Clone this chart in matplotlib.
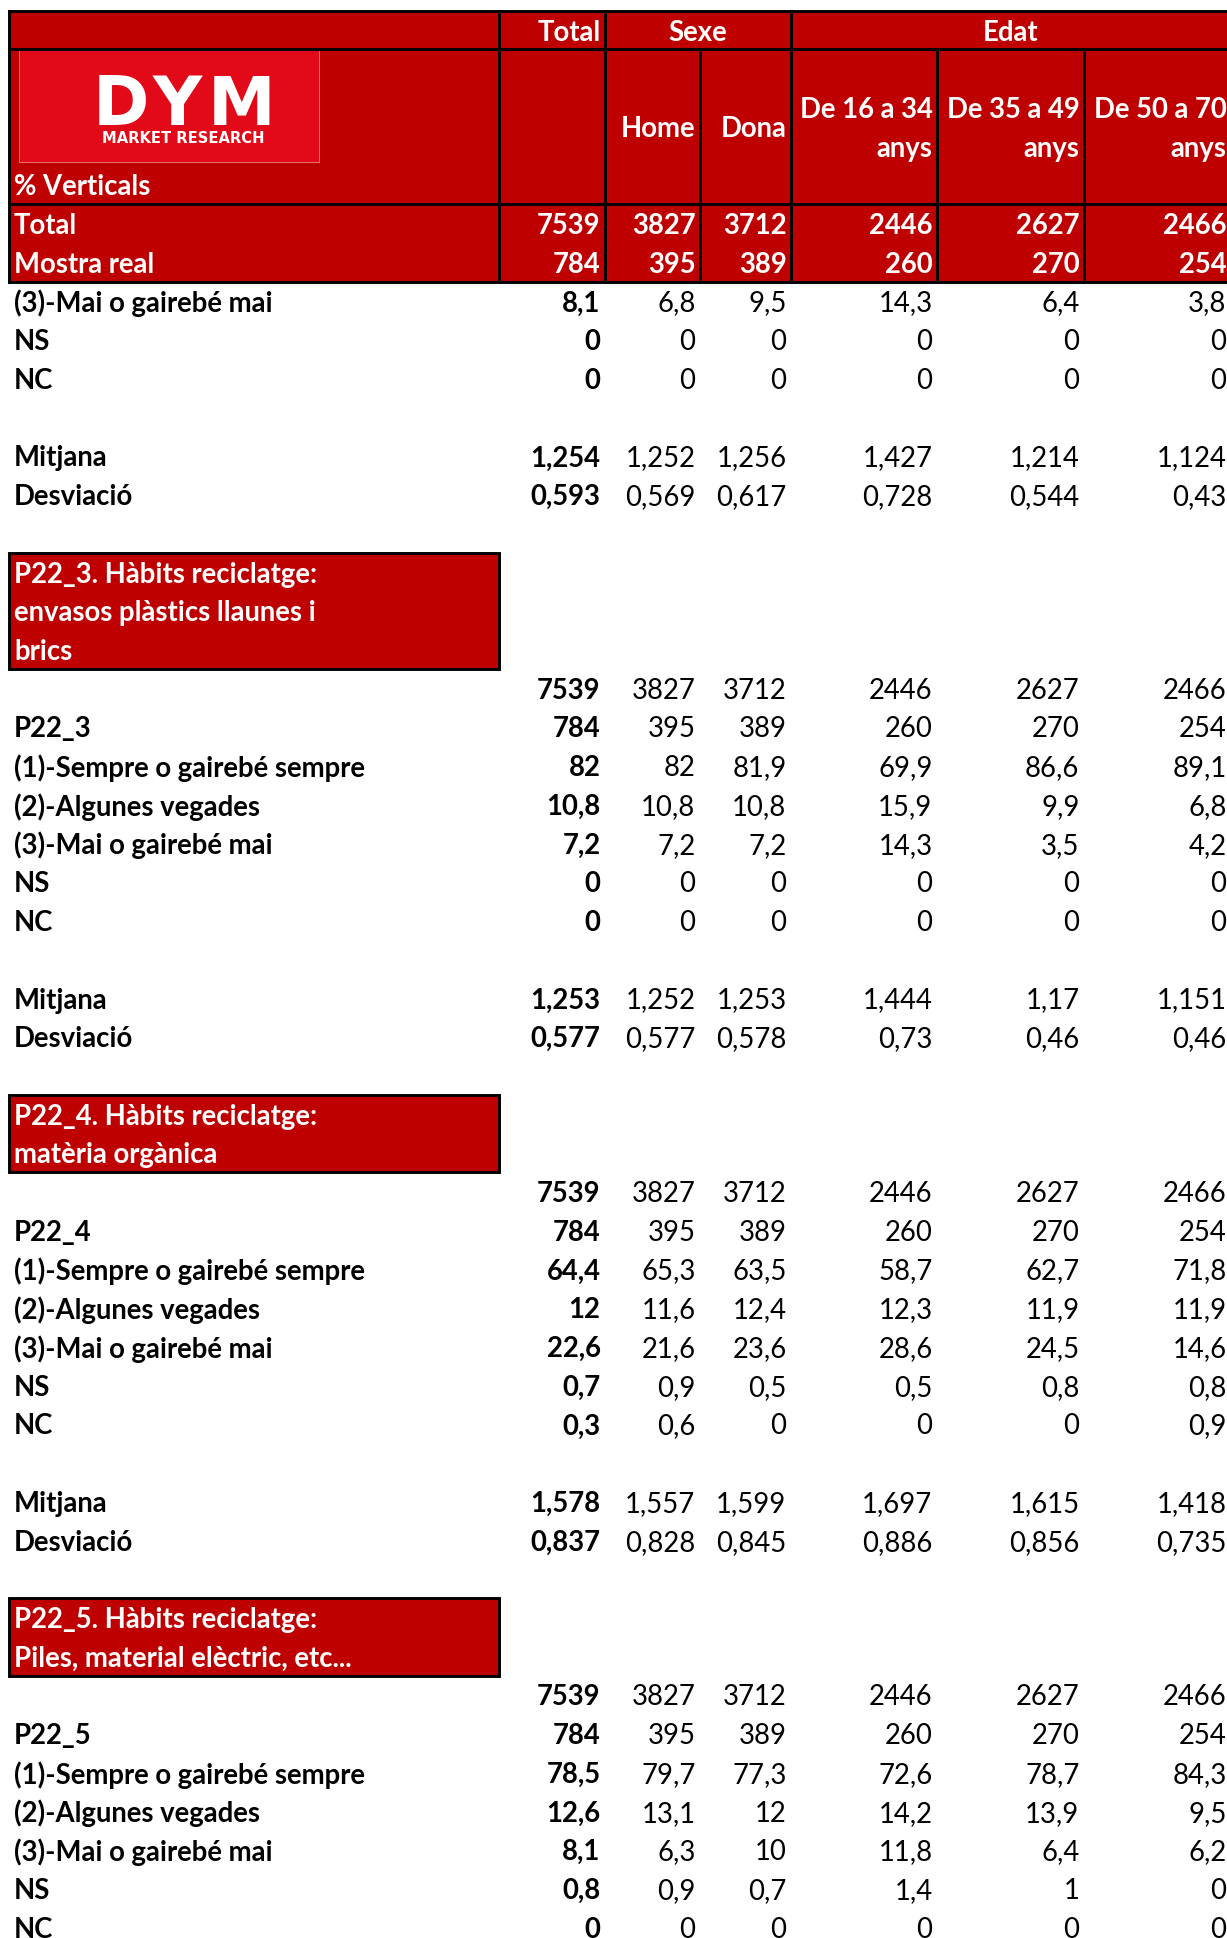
import matplotlib
matplotlib.use("Agg")
import matplotlib.pyplot as plt
from matplotlib.patches import Rectangle

# ---------------- data ----------------
group_headers = ["Total", "Sexe", "Edat"]
columns = ["", "Home", "Dona", "De 16 a 34\nanys", "De 35 a 49\nanys", "De 50 a 70\nanys"]

total_pop = [7539, 3827, 3712, 2446, 2627, 2466]
mostra_real = [784, 395, 389, 260, 270, 254]

# P22_2 (tail)
p22_2_mai = [8.1, 6.8, 9.5, 14.3, 6.4, 3.8]
p22_2_ns = [0, 0, 0, 0, 0, 0]
p22_2_nc = [0, 0, 0, 0, 0, 0]
p22_2_mitjana = [1.254, 1.252, 1.256, 1.427, 1.214, 1.124]
p22_2_desv = [0.593, 0.569, 0.617, 0.728, 0.544, 0.43]

# P22_3
p22_3_title = "P22_3. Hàbits reciclatge:\nenvasos plàstics llaunes i\nbrics"
p22_3_sempre = [82, 82, 81.9, 69.9, 86.6, 89.1]
p22_3_algunes = [10.8, 10.8, 10.8, 15.9, 9.9, 6.8]
p22_3_mai = [7.2, 7.2, 7.2, 14.3, 3.5, 4.2]
p22_3_ns = [0, 0, 0, 0, 0, 0]
p22_3_nc = [0, 0, 0, 0, 0, 0]
p22_3_mitjana = [1.253, 1.252, 1.253, 1.444, 1.17, 1.151]
p22_3_desv = [0.577, 0.577, 0.578, 0.73, 0.46, 0.46]

# P22_4
p22_4_title = "P22_4. Hàbits reciclatge:\nmatèria orgànica"
p22_4_sempre = [64.4, 65.3, 63.5, 58.7, 62.7, 71.8]
p22_4_algunes = [12, 11.6, 12.4, 12.3, 11.9, 11.9]
p22_4_mai = [22.6, 21.6, 23.6, 28.6, 24.5, 14.6]
p22_4_ns = [0.7, 0.9, 0.5, 0.5, 0.8, 0.8]
p22_4_nc = [0.3, 0.6, 0, 0, 0, 0.9]
p22_4_mitjana = [1.578, 1.557, 1.599, 1.697, 1.615, 1.418]
p22_4_desv = [0.837, 0.828, 0.845, 0.886, 0.856, 0.735]

# P22_5
p22_5_title = "P22_5. Hàbits reciclatge:\nPiles, material elèctric, etc..."
p22_5_sempre = [78.5, 79.7, 77.3, 72.6, 78.7, 84.3]
p22_5_algunes = [12.6, 13.1, 12, 14.2, 13.9, 9.5]
p22_5_mai = [8.1, 6.3, 10, 11.8, 6.4, 6.2]
p22_5_ns = [0.8, 0.9, 0.7, 1.4, 1, 0]
p22_5_nc = [0, 0, 0, 0, 0, 0]

L_SEMPRE = "(1)-Sempre o gairebé sempre"
L_ALG = "(2)-Algunes vegades"
L_MAI = "(3)-Mai o gairebé mai"

# row index -> content
data_rows = [
    (2, L_MAI, p22_2_mai), (3, "NS", p22_2_ns), (4, "NC", p22_2_nc),
    (6, "Mitjana", p22_2_mitjana), (7, "Desviació", p22_2_desv),
    (12, "", total_pop), (13, "P22_3", mostra_real),
    (14, L_SEMPRE, p22_3_sempre), (15, L_ALG, p22_3_algunes), (16, L_MAI, p22_3_mai),
    (17, "NS", p22_3_ns), (18, "NC", p22_3_nc),
    (20, "Mitjana", p22_3_mitjana), (21, "Desviació", p22_3_desv),
    (25, "", total_pop), (26, "P22_4", mostra_real),
    (27, L_SEMPRE, p22_4_sempre), (28, L_ALG, p22_4_algunes), (29, L_MAI, p22_4_mai),
    (30, "NS", p22_4_ns), (31, "NC", p22_4_nc),
    (33, "Mitjana", p22_4_mitjana), (34, "Desviació", p22_4_desv),
    (38, "", total_pop), (39, "P22_5", mostra_real),
    (40, L_SEMPRE, p22_5_sempre), (41, L_ALG, p22_5_algunes), (42, L_MAI, p22_5_mai),
    (43, "NS", p22_5_ns), (44, "NC", p22_5_nc),
]
title_boxes = [(9, 11, p22_3_title), (23, 24, p22_4_title), (36, 37, p22_5_title)]

# ---------------- layout ----------------
W, H = 1227, 1938
fig = plt.figure(figsize=(W / 100, H / 100), dpi=100)
ax = fig.add_axes([0, 0, 1, 1])
ax.set_xlim(0, W)
ax.set_ylim(H, 0)
ax.axis("off")

RED = "#BE0000"
LOGO = "#E20A18"
FONT = ["Lato", "DejaVu Sans"]
FS = 19.8
LW = 2.1
PAD = 4.5
TY = 2.5  # text baseline nudge

col_edges = [8.6, 499, 605, 700, 791, 937, 1084, 1231]
row0, pitch = 223.6, 38.72


def yc(r):
    return row0 + pitch * r


def ytop(r):
    return yc(r) - pitch / 2


def ty(r):
    return yc(r) + TY


def fmt(v):
    return ("%g" % v).replace(".", ",")


def hline(y, x0, x1):
    ax.plot([x0, x1], [y, y], color="black", lw=LW, solid_capstyle="projecting", zorder=3)


def vline(x, y0, y1):
    ax.plot([x, x], [y0, y1], color="black", lw=LW, solid_capstyle="projecting", zorder=3)


# header block
top, mid, hb, bot = ytop(-5), ytop(-4), ytop(0), ytop(2)
ax.add_patch(Rectangle((col_edges[0], top), col_edges[-1] - col_edges[0], bot - top,
                       facecolor=RED, edgecolor="none", zorder=1))
for y in (top, mid, hb, bot):
    hline(y, col_edges[0], col_edges[-1])
for x in (col_edges[0], col_edges[1], col_edges[2], col_edges[4], col_edges[-1]):
    vline(x, top, bot)
for x in (col_edges[3], col_edges[5], col_edges[6]):
    vline(x, mid, bot)

# logo
ax.add_patch(Rectangle((18.5, 49.5), 300.5, 112.5, facecolor=LOGO, edgecolor="#F08080",
                       lw=0.6, zorder=2))
for ch, xc in (("D", 120.5), ("Y", 177.5), ("M", 241.5)):
    ax.text(xc, 124.5, ch, color="white", fontsize=49, fontweight="heavy",
            family="DejaVu Sans", ha="center", va="baseline", zorder=4)
ax.text(183, 138, "MARKET RESEARCH", color="white", fontsize=10.6, fontweight="bold",
        family="DejaVu Sans", ha="center", va="center", zorder=4)
ax.text(14, ty(-1), "% Verticals", color="white", fontsize=FS, fontweight="bold",
        family=FONT, ha="left", va="center", zorder=4)

# group headers
ax.text(col_edges[2] - PAD, ty(-5), group_headers[0], color="white", fontsize=FS,
        fontweight="bold", family=FONT, ha="right", va="center", zorder=4)
ax.text((col_edges[2] + col_edges[4]) / 2, ty(-5), group_headers[1], color="white",
        fontsize=FS, fontweight="bold", family=FONT, ha="center", va="center", zorder=4)
ax.text((col_edges[4] + col_edges[-1]) / 2, ty(-5), group_headers[2], color="white",
        fontsize=FS, fontweight="bold", family=FONT, ha="center", va="center", zorder=4)

# column headers
hc = (mid + hb) / 2 + TY
for i, name in enumerate(columns):
    if not name:
        continue
    xr = col_edges[i + 2] - PAD
    lines = name.split("\n")
    n = len(lines)
    for k, line in enumerate(lines):
        y = hc + (k - (n - 1) / 2) * pitch
        ax.text(xr, y, line, color="white", fontsize=FS, fontweight="bold",
                family=FONT, ha="right", va="center", zorder=4)

# Total / Mostra real rows
for r, label, vals in ((0, "Total", total_pop), (1, "Mostra real", mostra_real)):
    ax.text(14, ty(r), label, color="white", fontsize=FS, fontweight="bold",
            family=FONT, ha="left", va="center", zorder=4)
    for i, v in enumerate(vals):
        ax.text(col_edges[i + 2] - PAD, ty(r), fmt(v), color="white", fontsize=FS,
                fontweight="bold", family=FONT, ha="right", va="center", zorder=4)

# title boxes
for r0, r1, title in title_boxes:
    y0, y1 = ytop(r0), ytop(r1 + 1)
    ax.add_patch(Rectangle((col_edges[0], y0), col_edges[1] - col_edges[0], y1 - y0,
                           facecolor=RED, edgecolor="black", lw=LW, zorder=2))
    for k, line in enumerate(title.split("\n")):
        ax.text(14, ty(r0 + k), line, color="white", fontsize=FS, fontweight="bold",
                family=FONT, ha="left", va="center", zorder=4)

# body rows
for r, label, vals in data_rows:
    if label:
        ax.text(14, ty(r), label, color="black", fontsize=FS, fontweight="bold",
                family=FONT, ha="left", va="center", zorder=4)
    for i, v in enumerate(vals):
        ax.text(col_edges[i + 2] - PAD, ty(r), fmt(v), color="black", fontsize=FS,
                fontweight="bold" if i == 0 else "normal", family=FONT,
                ha="right", va="center", zorder=4)

fig.savefig("out.png", dpi=100)
